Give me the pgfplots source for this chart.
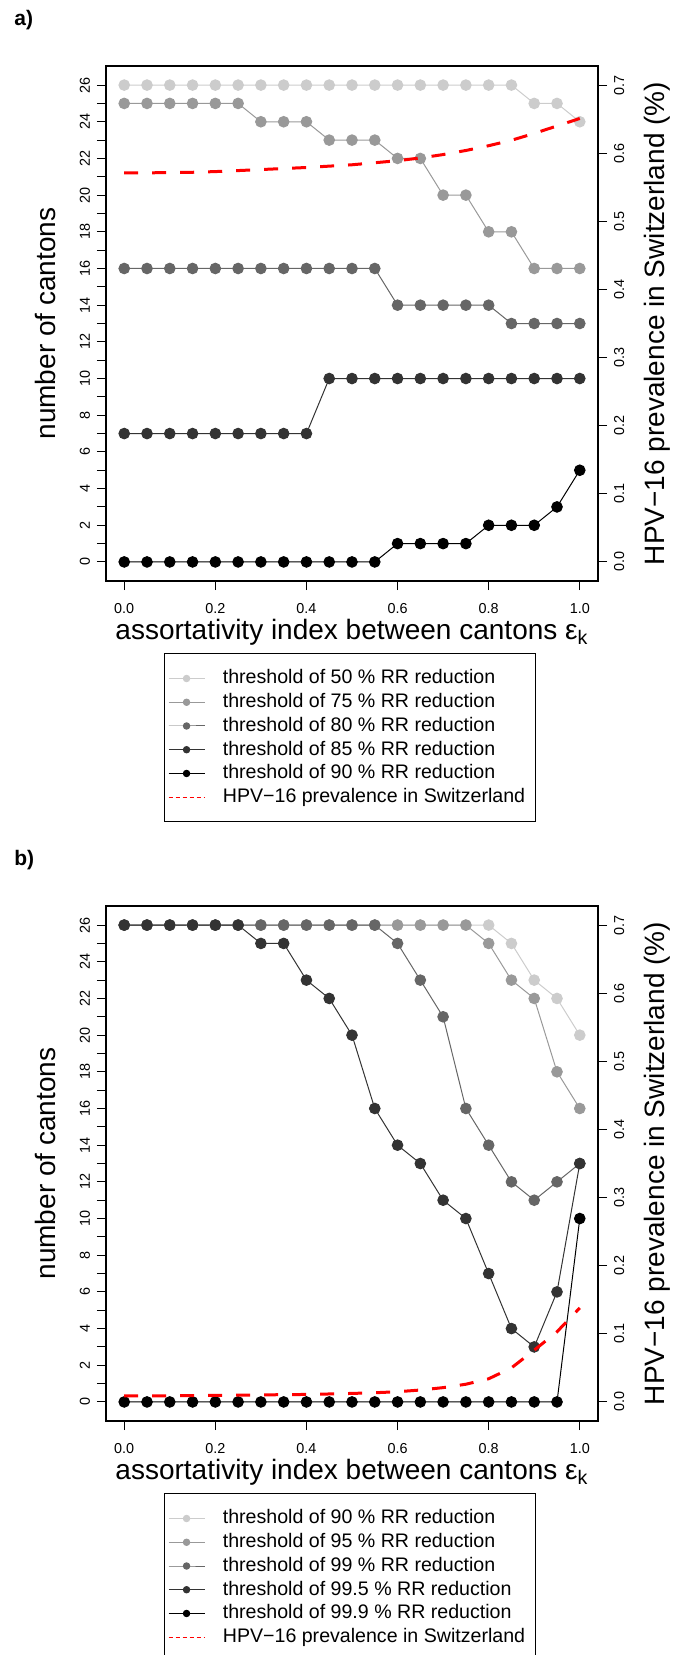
\documentclass[border=0pt]{standalone}
\usepackage{pgfplots}
\pgfplotsset{compat=1.18}
\usepackage{pgfplotstable}
\usepackage{fontspec}
\setmainfont{Liberation Sans}

\definecolor{ga}{gray}{0.8}
\definecolor{gb}{gray}{0.6}
\definecolor{gc}{gray}{0.4}
\definecolor{gd}{gray}{0.2}
\definecolor{ge}{gray}{0.0}
\definecolor{hpvred}{RGB}{255,0,0}

% panel a: thresholds 50, 75, 80, 85, 90 % ; hpv prevalence in %
\pgfplotstableread{
eps  s1 s2 s3 s4 s5 hpv
0.00 26 25 16  7 0 0.5710
0.05 26 25 16  7 0 0.5712
0.10 26 25 16  7 0 0.5715
0.15 26 25 16  7 0 0.5720
0.20 26 25 16  7 0 0.5730
0.25 26 25 16  7 0 0.5745
0.30 26 24 16  7 0 0.5760
0.35 26 24 16  7 0 0.5775
0.40 26 24 16  7 0 0.5790
0.45 26 23 16 10 0 0.5810
0.50 26 23 16 10 0 0.5830
0.55 26 23 16 10 0 0.5860
0.60 26 22 14 10 1 0.5890
0.65 26 22 14 10 1 0.5930
0.70 26 20 14 10 1 0.5980
0.75 26 20 14 10 1 0.6040
0.80 26 18 14 10 2 0.6110
0.85 26 18 13 10 2 0.6190
0.90 25 16 13 10 2 0.6290
0.95 25 16 13 10 3 0.6400
1.00 24 16 13 10 5 0.6510
}\dataA

% panel b: thresholds 90, 95, 99, 99.5, 99.9 %
\pgfplotstableread{
eps  s1 s2 s3 s4 s5 hpv
0.00 26 26 26 26  0 0.0088
0.05 26 26 26 26  0 0.0088
0.10 26 26 26 26  0 0.0090
0.15 26 26 26 26  0 0.0093
0.20 26 26 26 26  0 0.0097
0.25 26 26 26 26  0 0.0100
0.30 26 26 26 25  0 0.0103
0.35 26 26 26 25  0 0.0107
0.40 26 26 26 23  0 0.0110
0.45 26 26 26 22  0 0.0117
0.50 26 26 26 20  0 0.0125
0.55 26 26 26 16  0 0.0135
0.60 26 26 25 14  0 0.0150
0.65 26 26 23 13  0 0.0175
0.70 26 26 21 11  0 0.0210
0.75 26 26 16 10  0 0.0260
0.80 26 25 14  7  0 0.0340
0.85 25 23 12  4  0 0.0500
0.90 23 22 11  3  0 0.0760
0.95 22 18 12  6  0 0.1030
1.00 20 16 13 13 10 0.1380
}\dataB

\pgfplotsset{
  base/.style={
    scale only axis, width=246pt, height=257.5pt,
    xmin=-0.04, xmax=1.04,
    tick align=outside,
    major tick length=4.5pt, minor tick length=4.5pt,
    every tick/.style={black, line width=0.5pt},
    axis line style={line width=0.6pt},
    /pgf/number format/assume math mode=true,
    tick label style={font=\fontsize{7.2}{8}\selectfont},
    every axis y label/.style={at={(axis description cs:-0.124,0.5)}, rotate=90, anchor=center,
      font=\fontsize{14}{16}\selectfont},
    every axis x label/.style={at={(axis description cs:0.5,-0.114)}, anchor=base,
      font=\fontsize{14}{16}\selectfont},
    clip=false,
  },
  leftax/.style={base,
    ymin=-1.04, ymax=27.04,
    xtick={0,0.2,0.4,0.6,0.8,1},
    xticklabel style={yshift=-3pt, /pgf/number format/.cd, fixed, fixed zerofill, precision=1},
    ytick={0,2,...,26}, minor ytick={1,3,...,25},
    xtick pos=bottom, ytick pos=left,
    yticklabel style={rotate=90, anchor=south},
    xlabel={assortativity index between cantons ε\textsubscript{k}},
    ylabel={number of cantons},
    legend image code/.code={
      \draw[mark repeat=2, mark phase=2, #1] plot coordinates {(0pt,0pt) (9pt,0pt) (18pt,0pt)};
    },
    legend image post style={mark size=1.6pt},
    legend style={at={(axis description cs:0.117,-0.1404)}, anchor=north west,
      draw=black, line width=0.5pt, inner xsep=2pt, inner ysep=7.5pt,
      font=\fontsize{9.8}{11}\selectfont, row sep=2.17pt,
      nodes={inner xsep=3pt, inner ysep=0pt, text height=7.5pt, text depth=2.2pt},
      /tikz/every odd column/.append style={column sep=5.9pt}},
    legend cell align=left,
  },
  rightax/.style={base,
    ymin=-0.028, ymax=0.728,
    axis x line=none, axis y line*=right,
    ytick={0,0.1,0.2,0.3,0.4,0.5,0.6,0.7},
    yticklabel style={rotate=90, anchor=north, /pgf/number format/.cd, fixed, fixed zerofill, precision=1},
    every axis y label/.style={at={(axis description cs:1.12,0.5)}, rotate=90, anchor=center,
      font=\fontsize{14}{16}\selectfont},
    ylabel={HPV−16 prevalence in Switzerland (\%)},
  },
  ser/.style={#1, line width=0.5pt, mark=*, mark size=2.65pt, mark options={solid, fill=#1, draw=#1}},
  hpv/.style={hpvred, line width=1.5pt, dash pattern=on 7pt off 7pt},
}

\begin{document}
\begin{tikzpicture}
% ---------- panel a ----------
\begin{axis}[leftax, at={(0pt,0pt)}, anchor=north west]
\addplot[ser=ga] table[x=eps, y=s1] {\dataA};
\addplot[ser=gb] table[x=eps, y=s2] {\dataA};
\addplot[ser=gc] table[x=eps, y=s3] {\dataA};
\addplot[ser=gd] table[x=eps, y=s4] {\dataA};
\addplot[ser=ge] table[x=eps, y=s5] {\dataA};
\addlegendimage{hpvred, line width=0.5pt, dash pattern=on 2pt off 1.5pt}
\legend{threshold of 50 \% RR reduction, threshold of 75 \% RR reduction,
  threshold of 80 \% RR reduction, threshold of 85 \% RR reduction,
  threshold of 90 \% RR reduction, HPV−16 prevalence in Switzerland}
\end{axis}
\begin{axis}[rightax, at={(0pt,0pt)}, anchor=north west]
\addplot[hpv] table[x=eps, y=hpv] {\dataA};
\end{axis}

% ---------- panel b ----------
\begin{axis}[leftax, at={(0pt,-420pt)}, anchor=north west]
\addplot[ser=ga] table[x=eps, y=s1] {\dataB};
\addplot[ser=gb] table[x=eps, y=s2] {\dataB};
\addplot[ser=gc] table[x=eps, y=s3] {\dataB};
\addplot[ser=gd] table[x=eps, y=s4] {\dataB};
\addplot[ser=ge] table[x=eps, y=s5] {\dataB};
\addlegendimage{hpvred, line width=0.5pt, dash pattern=on 2pt off 1.5pt}
\legend{threshold of 90 \% RR reduction, threshold of 95 \% RR reduction,
  threshold of 99 \% RR reduction, threshold of 99.5 \% RR reduction,
  threshold of 99.9 \% RR reduction, HPV−16 prevalence in Switzerland}
\end{axis}
\begin{axis}[rightax, at={(0pt,-420pt)}, anchor=north west]
\addplot[hpv] table[x=eps, y=hpv] {\dataB};
\end{axis}

\node[anchor=west, inner sep=0pt, font=\bfseries\fontsize{10.5}{12}\selectfont] at (-46pt,23pt) {a)};
\node[anchor=west, inner sep=0pt, font=\bfseries\fontsize{10.5}{12}\selectfont] at (-46pt,-397pt) {b)};

\pgfresetboundingbox
\path[use as bounding box] (-53pt,33pt) rectangle (288pt,-794.5pt);
\end{tikzpicture}
\end{document}
